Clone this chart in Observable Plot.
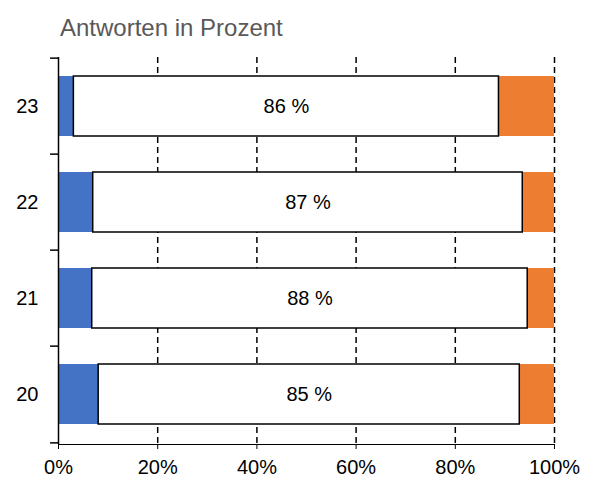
<!DOCTYPE html>
<html>
<head>
<meta charset="utf-8">
<script src="https://cdn.jsdelivr.net/npm/d3@7"></script>
<script src="https://cdn.jsdelivr.net/npm/@observablehq/plot@0.6"></script>
<style>
  body { margin: 0; background: #fff; font-family: "Liberation Sans", Arial, sans-serif; }
  #title { height: 28px; padding-top: 14px; padding-left: 60px; font-size: 24px; line-height: 28px; color: #595959; }
</style>
</head>
<body>
<div id="title">Antworten in Prozent</div>
<div id="chart"></div>
<script>
const years = ["23", "22", "21", "20"];
const blueShare = [3.1, 7.0, 6.8, 8.1];
const whiteShare = [85.7, 86.6, 87.8, 84.9];
const orangeShare = [11.2, 6.4, 5.4, 7.0];
const xTicks = [0, 20, 40, 60, 80, 100];
const gridTicks = [20, 40, 60, 80, 100];

const parts = [
  {key: "blue", values: blueShare, fill: "#4472C4"},
  {key: "white", values: whiteShare, fill: "#ffffff"},
  {key: "orange", values: orangeShare, fill: "#ED7D31"}
];

const rows = [];
years.forEach((y, i) => {
  let acc = 0;
  parts.forEach(p => {
    const v = p.values[i];
    rows.push({year: y, part: p.key, fill: p.fill, value: v, x1: acc, x2: acc + v});
    acc += v;
  });
});
const whiteRows = rows.filter(d => d.part === "white");

const W = 591, H = 436, mt = 15, mb = 34, ml = 58, mr = 37;
const step = (H - mt - mb) / years.length;

const chart = Plot.plot({
  width: W,
  height: H,
  marginTop: mt,
  marginBottom: mb,
  marginLeft: ml,
  marginRight: mr,
  style: {fontSize: "20px", fontFamily: "'Liberation Sans', Arial, sans-serif", color: "black", background: "white"},
  x: {domain: [0, 100], ticks: xTicks, tickFormat: d => d + "%", tickSize: 5, tickPadding: 10.5, line: true, label: null},
  y: {domain: years, paddingInner: 0.37, paddingOuter: 0.185, tickSize: 0, tickPadding: 20, line: true, label: null},
  marks: [
    Plot.ruleX(gridTicks, {stroke: "black", strokeWidth: 1.5, strokeDasharray: "6,4"}),
    Plot.barX(rows, {y: "year", x1: "x1", x2: "x2", fill: d => d.fill}),
    Plot.barX(whiteRows, {y: "year", x1: "x1", x2: "x2", fill: "white", stroke: "black", strokeWidth: 1.5}),
    Plot.text(whiteRows, {y: "year", x: d => (d.x1 + d.x2) / 2, text: d => Math.round(d.value) + " %", fontSize: 20, fill: "black"}),
    Plot.ruleY(years, {y: d => d, x1: -1.6, x2: 0, dy: -step / 2, stroke: "black", strokeWidth: 1.5}),
    Plot.ruleY([years[years.length - 1]], {y: d => d, x1: -1.6, x2: 0, dy: step / 2, stroke: "black", strokeWidth: 1.5}),
    Plot.ruleX([0], {stroke: "black", strokeWidth: 1.5})
  ]
});
document.getElementById("chart").appendChild(chart);
</script>
</body>
</html>
